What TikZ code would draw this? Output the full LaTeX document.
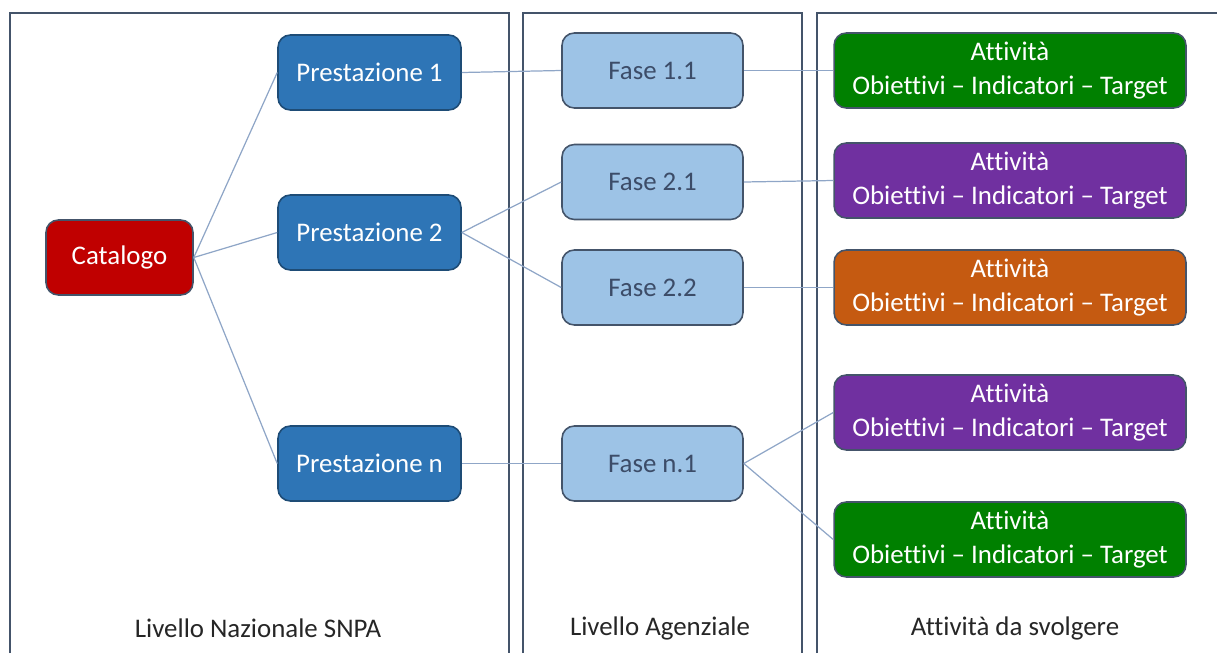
\documentclass[tikz,border=0pt]{standalone}
\usepackage{fontspec}
\setmainfont{Carlito}[Ligatures=NoCommon]
\definecolor{bordo}{RGB}{68,84,106}
\definecolor{catrosso}{RGB}{192,0,0}
\definecolor{prestblu}{RGB}{46,117,182}
\definecolor{faseblu}{RGB}{157,195,230}
\definecolor{fasetesto}{RGB}{60,76,104}
\definecolor{verde}{RGB}{0,128,0}
\definecolor{viola}{RGB}{112,48,160}
\definecolor{arancio}{RGB}{197,90,17}
\definecolor{linea}{RGB}{143,166,199}
\begin{document}
\begin{tikzpicture}[x=0.02cm, y=-0.02cm,
  box/.style={rectangle, rounded corners=7pt, draw=bordo, line width=0.9pt,
    minimum height=1.5cm, align=center, font=\fontsize{15.3}{19.8}\selectfont},
  cat/.style={box, fill=catrosso, text=white, minimum width=2.94cm},
  prest/.style={box, fill=prestblu, draw=prestblu!65!black, text=white, minimum width=3.66cm},
  fase/.style={box, fill=faseblu, text=fasetesto, minimum width=3.62cm},
  attiv/.style={box, text=white, minimum width=7.04cm},
  pannello/.style={draw=bordo, line width=1.2pt},
  link/.style={draw=linea, line width=0.7pt},
  livello/.style={font=\fontsize{15.3}{18}\selectfont, text=black!85}]
\useasboundingbox (0,0) rectangle (1217,653);

% pannelli
\draw[pannello] (10,653) |- (509,13) -- (509,653);
\draw[pannello] (523,653) |- (802,13) -- (802,653);
\draw[pannello] (817,653) |- (1217,13);

% livello nazionale
\node[cat] (cat) at (119.5,257.5) {Catalogo};
\node[prest] (p1) at (369.5,72.5) {Prestazione 1};
\node[prest] (p2) at (369.5,232.5) {Prestazione 2};
\node[prest] (pn) at (369.5,463.5) {Prestazione n};

% livello agenziale
\node[fase] (f11) at (652.5,70.5) {Fase 1.1};
\node[fase] (f21) at (652.5,182) {Fase 2.1};
\node[fase] (f22) at (652.5,287.5) {Fase 2.2};
\node[fase] (fn1) at (652.5,463.5) {Fase n.1};

% attivita
\foreach \nome/\y/\col in {a1/70.5/verde, a2/180.5/viola, a3/287.5/arancio,
                           a4/412.5/viola, a5/539.5/verde}
  \node[attiv, fill=\col] (\nome) at (1010,\y)
    {Attività\\Obiettivi -- Indicatori -- Target};

% collegamenti
\foreach \p in {p1,p2,pn}
  \draw[link] (cat.east) -- (\p.west);
\draw[link] (p1.east) -- (f11.west);
\draw[link] (p2.east) -- (f21.west);
\draw[link] (p2.east) -- (f22.west);
\draw[link] (pn.east) -- (fn1.west);
\draw[link] (f11.east) -- (a1.west);
\draw[link] (f21.east) -- (a2.west);
\draw[link] (f22.east) -- (a3.west);
\draw[link] (fn1.east) -- (a4.west);
\draw[link] (fn1.east) -- (a5.west);

% legende
\node[livello] (l1) at (258,628) {Livello Nazionale SNPA};
\node[livello] (l2) at (660,628) {Livello Agenziale};
\node[livello] (l3) at (1015,628) {Attività da svolgere};
\end{tikzpicture}
\end{document}
